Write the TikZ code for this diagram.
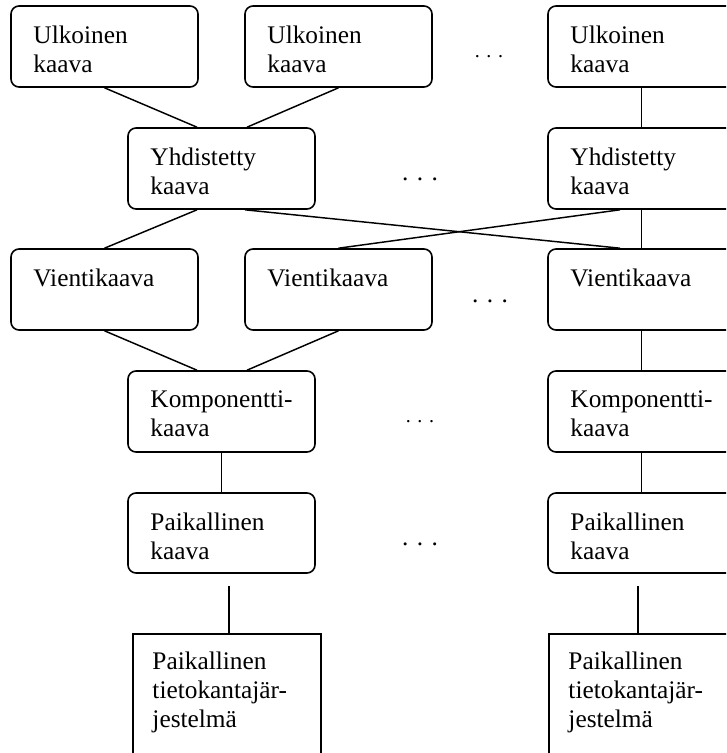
\documentclass[tikz,border=0pt]{standalone}
\usepackage{fontspec}
\setmainfont{Liberation Serif}
\usetikzlibrary{calc}

\tikzset{
  rbox/.style={draw, line width=1.2pt, rounded corners=6pt,
    minimum width=140.25pt, minimum height=60.75pt, inner sep=0pt},
  sbox/.style={draw, line width=1.2pt, minimum width=141pt,
    minimum height=109.5pt, inner sep=0pt},
  lbl/.style={anchor=north west, inner sep=0pt, align=left,
    font=\fontsize{19}{21.75}\selectfont},
  link/.style={line width=1.1pt},
  dotsbig/.style={inner sep=0pt, font=\fontsize{19}{21.75}\selectfont},
  dotssmall/.style={inner sep=0pt, font=\fontsize{15}{18}\selectfont}
}

\begin{document}
\begin{tikzpicture}[x=0.75pt, y=-0.75pt]
  \useasboundingbox (0,0) rectangle (726,753);
  \clip (0,0) rectangle (726,753);

  % external schemas
  \node[rbox] (u1) at (104.5,46.5) {};
  \node[rbox] (u2) at (338.5,46.5) {};
  \node[rbox] (u3) at (641.5,46.5) {};
  % federated schemas
  \node[rbox] (y1) at (221.5,168.5) {};
  \node[rbox] (y3) at (641.5,168.5) {};
  % export schemas
  \node[rbox] (v1) at (104.5,289.5) {};
  \node[rbox] (v2) at (338.5,289.5) {};
  \node[rbox] (v3) at (641.5,289.5) {};
  % component schemas
  \node[rbox] (k1) at (221.5,411.5) {};
  \node[rbox] (k3) at (641.5,411.5) {};
  % local schemas
  \node[rbox, minimum height=60pt] (p1) at (221.5,533) {};
  \node[rbox, minimum height=60pt] (p3) at (641.5,533) {};
  % local database systems
  \node[sbox] (s1) at (227,707) {};
  \node[sbox] (s3) at (643,707) {};

  % texts
  \node[lbl] at ($(u1.north west)+(23,20)$) {Ulkoinen\\kaava};
  \node[lbl] at ($(u2.north west)+(23,20)$) {Ulkoinen\\kaava};
  \node[lbl] at ($(u3.north west)+(23,20)$) {Ulkoinen\\kaava};
  \node[lbl] at ($(y1.north west)+(23,20)$) {Yhdistetty\\kaava};
  \node[lbl] at ($(y3.north west)+(23,20)$) {Yhdistetty\\kaava};
  \node[lbl] at ($(v1.north west)+(23,20)$) {Vientikaava};
  \node[lbl] at ($(v2.north west)+(23,20)$) {Vientikaava};
  \node[lbl] at ($(v3.north west)+(23,20)$) {Vientikaava};
  \node[lbl] at ($(k1.north west)+(23,20)$) {Komponentti-\\kaava};
  \node[lbl] at ($(k3.north west)+(23,20)$) {Komponentti-\\kaava};
  \node[lbl] at ($(p1.north west)+(23,20)$) {Paikallinen\\kaava};
  \node[lbl] at ($(p3.north west)+(23,20)$) {Paikallinen\\kaava};
  \node[lbl] at ($(s1.north west)+(20,18)$) {Paikallinen\\tietokantajär-\\jestelmä};
  \node[lbl] at ($(s3.north west)+(20,18)$) {Paikallinen\\tietokantajär-\\jestelmä};

  % ellipses between columns
  \node[dotssmall] (d1) at (489,57) {.\,\,.\,\,.};
  \node[dotsbig] (d2) at (420,179) {.\,\,.\,\,.};
  \node[dotsbig] (d3) at (490,301) {.\,\,.\,\,.};
  \node[dotssmall] (d4) at (420,422) {.\,\,.\,\,.};
  \node[dotsbig] (d5) at (420,544) {.\,\,.\,\,.};

  % connectors
  \draw[link] (u1.south) -- ($(y1.north)+(-24.5,0)$);
  \draw[link] (u2.south) -- ($(y1.north)+(25.5,0)$);
  \draw[link] (u3.south) -- (y3.north);
  \draw[link] ($(y1.south)+(-24.5,0)$) -- (v1.north);
  \draw[link] ($(y1.south)+(23.5,0)$) -- ($(v3.north)+(-21.5,0)$);
  \draw[link] ($(y3.south)+(-21.5,0)$) -- (v2.north);
  \draw[link] (y3.south) -- (v3.north);
  \draw[link] (v1.south) -- ($(k1.north)+(-24.5,0)$);
  \draw[link] (v2.south) -- ($(k1.north)+(25.5,0)$);
  \draw[link] (v3.south) -- (k3.north);
  \draw[link] (k1.south) -- (p1.north);
  \draw[link] (k3.south) -- (p3.north);
  \coordinate (c1) at (229,586);
  \coordinate (c3) at (638,586);
  \draw[link] (c1) -- (c1 |- s1.north);
  \draw[link] (c3) -- (c3 |- s3.north);
\end{tikzpicture}
\end{document}
